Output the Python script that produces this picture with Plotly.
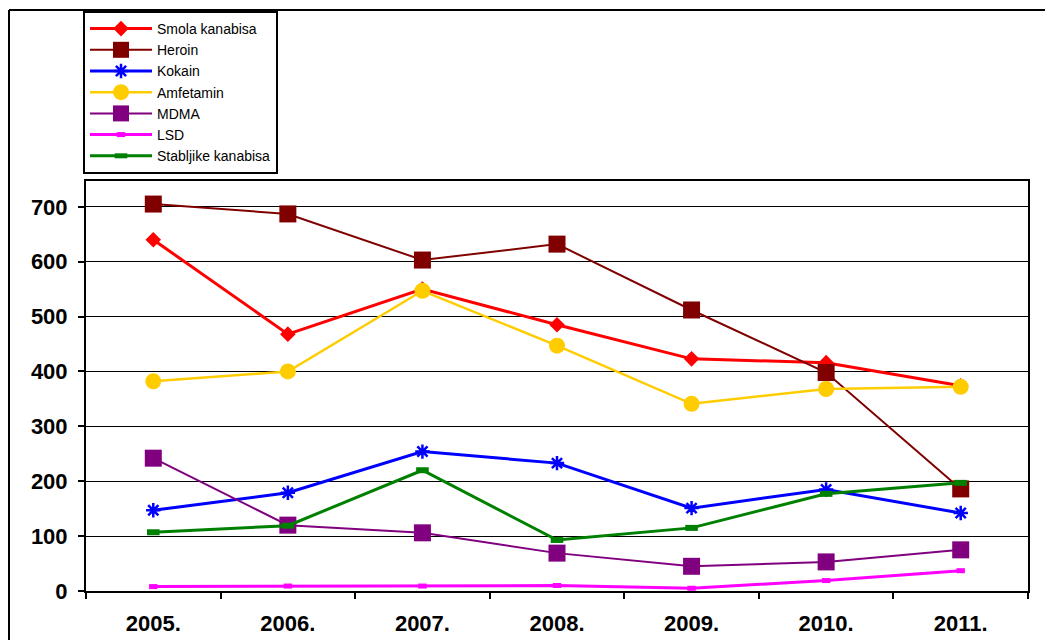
import plotly.graph_objects as go

years = ["2005.", "2006.", "2007.", "2008.", "2009.", "2010.", "2011."]

smola_kanabisa = [640, 468, 550, 485, 423, 416, 374]
heroin = [705, 687, 603, 632, 512, 398, 186]
kokain = [147, 179, 254, 233, 151, 185, 142]
amfetamin = [382, 400, 547, 447, 341, 368, 372]
mdma = [242, 120, 106, 69, 45, 53, 75]
lsd = [8, 9, 9, 10, 5, 19, 37]
stabljike_kanabisa = [107, 119, 220, 93, 115, 177, 197]

series = [
    ("Smola kanabisa", smola_kanabisa, "#FF0000", 3, dict(symbol="diamond", size=12)),
    ("Heroin", heroin, "#800000", 2, dict(symbol="square", size=17)),
    ("Kokain", kokain, "#0000FF", 3, dict(symbol="asterisk-open", size=12, line=dict(width=2.5, color="#0000FF"))),
    ("Amfetamin", amfetamin, "#FFCC00", 2.5, dict(symbol="circle", size=16)),
    ("MDMA", mdma, "#800080", 2, dict(symbol="square", size=17)),
    ("LSD", lsd, "#FF00FF", 3, dict(symbol="line-ew-open", size=6, line=dict(width=5, color="#FF00FF"))),
    ("Stabljike kanabisa", stabljike_kanabisa, "#008000", 3, dict(symbol="line-ew-open", size=9, line=dict(width=6, color="#008000"))),
]

fig = go.Figure()
for name, vals, color, lw, mk in series:
    marker = dict(color=color)
    marker.update(mk)
    fig.add_trace(go.Scatter(
        x=years, y=vals, name=name, mode="lines+markers",
        line=dict(color=color, width=lw), marker=marker,
    ))

# page body has an 8px margin; figure coordinates are screen coordinates - 8
OFF = 8
W, H = 1053 - OFF, 640 - OFF
L = 86 - OFF
T = 181 - OFF
R = W - (1028 - OFF)
B = H - (591 - OFF)
pw, ph = W - L - R, H - T - B


def px_x(x):
    return (x - OFF - L) / pw


def px_y(y):
    return (H - B - (y - OFF)) / ph


font_family = "Liberation Sans, Arial, sans-serif"

fig.update_layout(
    width=W, height=H,
    margin=dict(l=L, r=R, t=T, b=B, pad=0, autoexpand=False),
    paper_bgcolor="white", plot_bgcolor="white",
    font=dict(family=font_family, color="black"),
    showlegend=True,
    legend=dict(
        xref="container", yref="container",
        x=(83 - OFF) / W, y=1 - (11 - OFF) / H, xanchor="left", yanchor="top",
        bordercolor="black", borderwidth=2, bgcolor="white",
        font=dict(size=14, family=font_family, color="black"),
        itemwidth=62,
        tracegroupgap=0,
        itemsizing="trace",
    ),
    xaxis=dict(
        type="category", range=[-0.5, 6.5],
        showgrid=False, showline=True, linecolor="black", linewidth=2, mirror=True,
        ticks="outside", ticklen=6, tickwidth=2, tickcolor="black",
        tickson="boundaries",
        tickfont=dict(size=22, family=font_family, color="black", weight="bold"),
        ticklabelstandoff=12,
        zeroline=False,
    ),
    yaxis=dict(
        range=[0, 747], dtick=100, tick0=0,
        showgrid=True, gridcolor="black", gridwidth=1,
        showline=True, linecolor="black", linewidth=2, mirror=True,
        ticks="outside", ticklen=6, tickwidth=2, tickcolor="black",
        tickfont=dict(size=22, family=font_family, color="black", weight="bold"),
        ticklabelstandoff=6,
        zeroline=False,
    ),
    shapes=[
        dict(type="line", xref="paper", yref="paper",
             x0=px_x(9), x1=px_x(1053), y0=px_y(10), y1=px_y(10),
             line=dict(color="black", width=2)),
        dict(type="line", xref="paper", yref="paper",
             x0=px_x(9), x1=px_x(9), y0=px_y(10), y1=px_y(640),
             line=dict(color="black", width=2)),
    ],
)

fig.write_html("out.html")
